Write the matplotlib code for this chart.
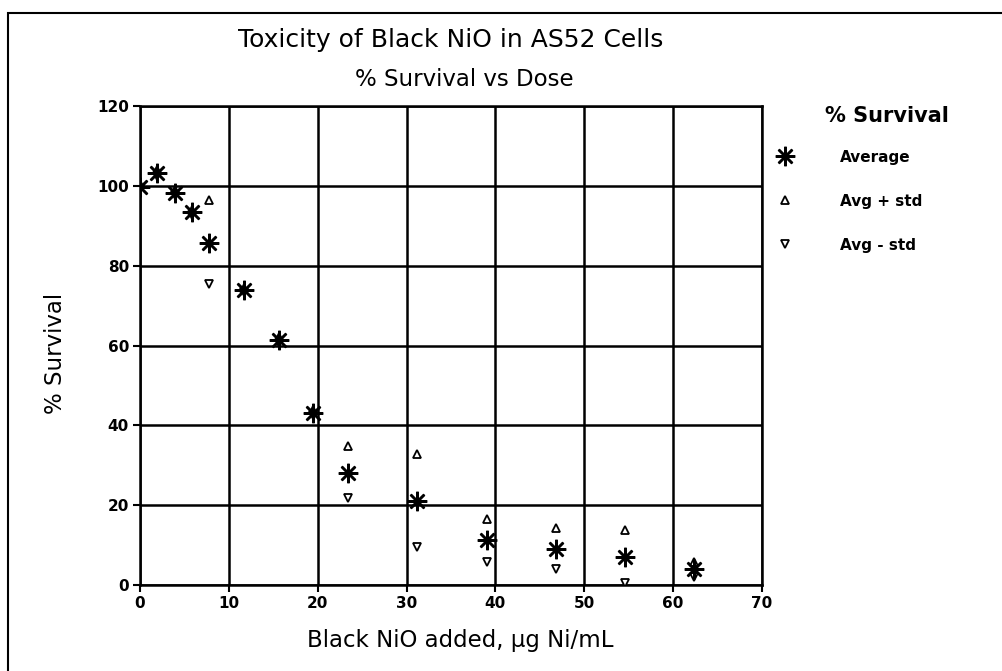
import matplotlib
matplotlib.use("Agg")
import matplotlib.pyplot as plt
from matplotlib.patches import Rectangle

plt.rcParams['font.family'] = ['DejaVu Sans']

dose = [0, 1.95, 3.9, 5.85, 7.8, 11.7, 15.6, 19.5, 23.4, 31.2, 39.0, 46.8, 54.6, 62.4]
avg = [99.8, 103.2, 98.3, 93.4, 85.8, 73.9, 61.4, 43.2, 28.1, 21.1, 11.3, 8.9, 6.9, 3.9]
avg_plus = [100.5, 104.0, 99.0, 94.0, 96.5, 74.5, 62.2, 43.8, 34.9, 32.8, 16.5, 14.4, 13.8, 5.8]
avg_minus = [99.1, 102.4, 97.6, 92.8, 75.4, 73.3, 60.6, 42.6, 21.7, 9.4, 5.8, 3.9, 0.6, 2.1]

fig = plt.figure(figsize=(10.02, 6.71), dpi=100)
ax = fig.add_axes([140/1002, 1-585/671, 622/1002, 479/671])

ax.plot(dose, avg_plus, linestyle='none', marker='^', ms=6, mfc='white', mec='black', mew=1.3,
        label='Avg + std', zorder=3)
ax.plot(dose, avg_minus, linestyle='none', marker='v', ms=6, mfc='white', mec='black', mew=1.3,
        label='Avg - std', zorder=3)
ax.plot(dose, avg, linestyle='none', marker=(8, 2, 0), ms=14, mec='black', mew=1.8,
        label='Average', zorder=4)

ax.set_xlim(0, 70)
ax.set_ylim(0, 120)
ax.set_xticks(range(0, 71, 10))
ax.set_yticks(range(0, 121, 20))
ax.grid(True, color='black', linewidth=1.8)
ax.set_axisbelow(True)
for s in ax.spines.values():
    s.set_linewidth(1.8)
ax.tick_params(direction='out', length=5, width=1.5, labelsize=11, pad=3)
for lab in ax.get_xticklabels() + ax.get_yticklabels():
    lab.set_fontweight('bold')

ax.set_xlabel('Black NiO added, µg Ni/mL', fontsize=16.5)
ax.set_ylabel('% Survival', fontsize=16.5)
ax.xaxis.set_label_coords((460-140)/622, -(641-585)/479)
ax.yaxis.set_label_coords(-(140-55)/622, (585-353)/479)
ax.xaxis.label.set_va('center')
ax.yaxis.label.set_va('center')

fig.text(451/1002, 1-40/671, 'Toxicity of Black NiO in AS52 Cells', ha='center', va='center', fontsize=18)
fig.text(464/1002, 1-80/671, '% Survival vs Dose', ha='center', va='center', fontsize=16.5)
fig.text(887/1002, 1-116/671, '% Survival', ha='center', va='center', fontsize=15, fontweight='bold')

handles, labels = ax.get_legend_handles_labels()
order = [2, 0, 1]
leg = fig.legend([handles[i] for i in order], [labels[i] for i in order],
                 loc='upper left', bbox_to_anchor=(756/1002, 1-136/671), frameon=False,
                 fontsize=11, labelspacing=1.9, handletextpad=2.6)
for t in leg.get_texts():
    t.set_fontweight('bold')

fig.patches.append(Rectangle((8/1002, -0.05), 1.1, 1.05-13/671, transform=fig.transFigure,
                             fill=False, edgecolor='black', linewidth=1.5))

fig.savefig('out.png', dpi=100)
